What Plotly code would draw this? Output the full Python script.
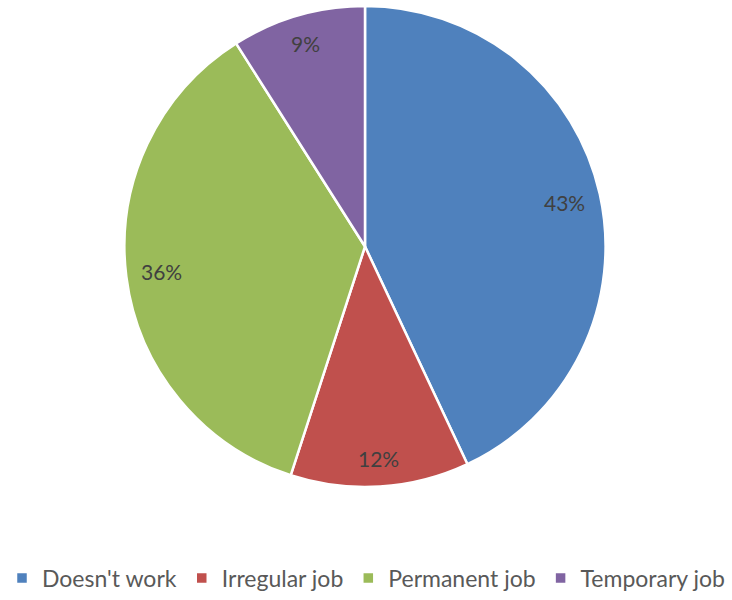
import math
import plotly.graph_objects as go

categories = ["Doesn't work", "Irregular job", "Permanent job", "Temporary job"]
shares = [43, 12, 36, 9]
colors = ["#4F81BD", "#C0504D", "#9BBB59", "#8064A2"]

W, H = 732, 600
cx, cy, r = 365, 249, 241

fig = go.Figure(
    go.Pie(
        labels=categories,
        values=shares,
        sort=False,
        direction="clockwise",
        rotation=0,
        marker=dict(colors=colors, line=dict(color="white", width=2.5)),
        textinfo="none",
        hoverinfo="label+percent",
        domain=dict(
            x=[(cx - r - 2) / W, (cx + r + 2) / W],
            y=[1 - (cy + r + 2) / H, 1 - (cy - r - 2) / H],
        ),
    )
)

# Percentage labels: placed inside each slice along its mid-angle, pushed
# outward until the label box reaches a fixed inner ring.
label_font = dict(family="Lato", size=21, color="#404040")
char_w = 14
half_h = 11
ring = 0.945 * r
total = sum(shares)
cum = 0
for v in shares:
    mid = (cum + v / 2) / total * 2 * math.pi
    cum += v
    ux, uy = math.sin(mid), -math.cos(mid)
    txt = f"{round(100 * v / total)}%"
    half_w = len(txt) * char_w / 2
    corner = (math.copysign(half_w, ux), math.copysign(half_h, uy))
    # solve |d*u + corner| = ring for d
    b = ux * corner[0] + uy * corner[1]
    c = corner[0] ** 2 + corner[1] ** 2 - ring ** 2
    d = -b + math.sqrt(b * b - c)
    px, py = cx + d * ux, cy + d * uy
    fig.add_annotation(
        x=px / W, y=1 - py / H, xref="paper", yref="paper",
        text=txt, showarrow=False, font=label_font,
        xanchor="center", yanchor="middle",
    )

fig.update_layout(
    width=W,
    height=H,
    margin=dict(l=0, r=0, t=0, b=0),
    paper_bgcolor="white",
    plot_bgcolor="white",
    showlegend=True,
    legend=dict(
        orientation="h",
        x=0.5,
        xanchor="center",
        y=1 - 584 / H,
        yanchor="middle",
        font=dict(family="Lato", size=23, color="#595959"),
        traceorder="normal",
    ),
)

fig.write_html("out.html")
